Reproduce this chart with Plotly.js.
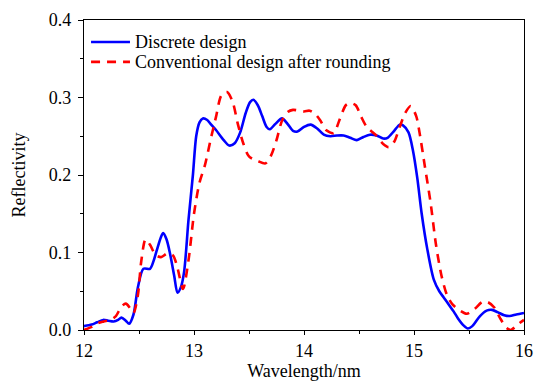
<!DOCTYPE html>
<html>
<head>
<meta charset="utf-8">
<script src="https://cdn.plot.ly/plotly-3.0.1.min.js"></script>
<style>html,body{margin:0;padding:0;background:#fff;}#chart{width:534px;height:381px;}</style>
</head>
<body>
<div id="chart"></div>
<script>
// Discrete design (blue solid)
const blueX = [12.0, 12.07, 12.12, 12.175, 12.22, 12.27, 12.31, 12.34, 12.38, 12.41, 12.45, 12.49, 12.54, 12.6, 12.63, 12.66, 12.7, 12.72, 12.75, 12.78, 12.82, 12.85, 12.88, 12.91, 12.95, 12.99, 13.02, 13.05, 13.08, 13.12, 13.15, 13.2, 13.27, 13.32, 13.37, 13.42, 13.47, 13.51, 13.54, 13.58, 13.62, 13.66, 13.69, 13.74, 13.8, 13.85, 13.9, 13.94, 14.0, 14.06, 14.12, 14.18, 14.24, 14.3, 14.36, 14.42, 14.48, 14.54, 14.6, 14.66, 14.72, 14.76, 14.82, 14.87, 14.9, 14.95, 14.99, 15.03, 15.07, 15.12, 15.18, 15.23, 15.27, 15.32, 15.36, 15.4, 15.45, 15.49, 15.53, 15.6, 15.66, 15.71, 15.76, 15.82, 15.87, 15.93, 16.0];
const blueY = [0.005, 0.007, 0.01, 0.013, 0.012, 0.011, 0.013, 0.016, 0.012, 0.008, 0.02, 0.055, 0.079, 0.079, 0.088, 0.102, 0.12, 0.125, 0.117, 0.1, 0.07, 0.048, 0.055, 0.075, 0.142, 0.2, 0.25, 0.268, 0.273, 0.271, 0.266, 0.258, 0.245, 0.238, 0.241, 0.255, 0.28, 0.294, 0.297, 0.29, 0.276, 0.262, 0.259, 0.266, 0.273, 0.266, 0.257, 0.256, 0.262, 0.265, 0.26, 0.252, 0.25, 0.251, 0.251, 0.248, 0.245, 0.249, 0.252, 0.251, 0.247, 0.248, 0.257, 0.265, 0.264, 0.255, 0.232, 0.196, 0.15, 0.105, 0.065, 0.05, 0.042, 0.032, 0.024, 0.015, 0.006, 0.002, 0.005, 0.018, 0.025, 0.026, 0.023, 0.019, 0.018, 0.02, 0.022];

// Conventional design after rounding (red dashed)
const redX = [12.0, 12.07, 12.13, 12.18, 12.24, 12.29, 12.34, 12.38, 12.42, 12.45, 12.49, 12.52, 12.56, 12.6, 12.65, 12.7, 12.76, 12.81, 12.85, 12.9, 12.95, 13.0, 13.05, 13.1, 13.15, 13.2, 13.25, 13.3, 13.35, 13.4, 13.45, 13.5, 13.58, 13.65, 13.7, 13.75, 13.8, 13.85, 13.9, 14.0, 14.05, 14.1, 14.15, 14.2, 14.27, 14.32, 14.38, 14.42, 14.47, 14.52, 14.57, 14.65, 14.72, 14.77, 14.82, 14.87, 14.92, 14.97, 15.02, 15.05, 15.1, 15.15, 15.2, 15.25, 15.3, 15.35, 15.42, 15.48, 15.55, 15.62, 15.67, 15.73, 15.78, 15.84, 15.88, 15.94, 16.0];
const redY = [0.0, 0.004, 0.009, 0.011, 0.013, 0.018, 0.03, 0.034, 0.028, 0.022, 0.045, 0.088, 0.117, 0.11, 0.097, 0.094, 0.099, 0.096, 0.08, 0.053, 0.09, 0.15, 0.19, 0.213, 0.245, 0.275, 0.303, 0.307, 0.295, 0.265, 0.24, 0.224, 0.218, 0.215, 0.225, 0.245, 0.27, 0.281, 0.284, 0.282, 0.283, 0.279, 0.27, 0.258, 0.254, 0.27, 0.29, 0.293, 0.29, 0.275, 0.262, 0.252, 0.24, 0.236, 0.243, 0.262, 0.28, 0.289, 0.276, 0.255, 0.21, 0.165, 0.11, 0.07, 0.045, 0.033, 0.025, 0.021, 0.027, 0.036, 0.036, 0.029, 0.016, 0.003, 0.0, 0.007, 0.013];

const seriesNames = ['Discrete design', 'Conventional design after rounding'];
const seriesColors = ['#0000ff', '#ff0000'];
const seriesDash = ['solid', '9px,7px'];
const xTickVals = [12, 13, 14, 15, 16];
const yTickVals = [0.0, 0.1, 0.2, 0.3, 0.4];

const FONT = '"Liberation Serif", "Times New Roman", Times, serif';

const traces = [
  {x: blueX, y: blueY, name: seriesNames[0], mode: 'lines', showlegend: false,
   line: {color: seriesColors[0], width: 2.6, dash: seriesDash[0], shape: 'spline', smoothing: 0.8}},
  {x: redX, y: redY, name: seriesNames[1], mode: 'lines', showlegend: false,
   line: {color: seriesColors[1], width: 2.6, dash: seriesDash[1], shape: 'spline', smoothing: 0.8}}
];

const axisCommon = {
  showgrid: false, zeroline: false,
  showline: true, linecolor: '#000', linewidth: 1.2, mirror: true,
  ticks: 'outside', ticklen: 5, tickwidth: 1, tickcolor: '#000',
  tickfont: {family: FONT, size: 18, color: '#000'}
};

// manual legend (paper coordinates)
const legendRowsY = [0.929, 0.865];
const shapes = [];
const annotations = [];
seriesNames.forEach((n, i) => {
  shapes.push({type: 'line', xref: 'paper', yref: 'paper', x0: 0.016, x1: 0.1045,
    y0: legendRowsY[i], y1: legendRowsY[i],
    line: {color: seriesColors[i], width: 2.6, dash: seriesDash[i]}});
  annotations.push({xref: 'paper', yref: 'paper', x: 0.112, y: legendRowsY[i],
    xanchor: 'left', yanchor: 'middle', text: n, showarrow: false,
    font: {family: FONT, size: 18, color: '#000'}});
});

const layout = {
  width: 534, height: 381,
  margin: {l: 84, r: 10, t: 20, b: 51},
  paper_bgcolor: '#fff', plot_bgcolor: '#fff',
  font: {family: FONT, size: 18, color: '#000'},
  showlegend: false,
  xaxis: Object.assign({}, axisCommon, {
    range: [12, 16], tickvals: xTickVals, ticktext: xTickVals.map(String),
    ticklen: 4,
    minor: {dtick: 0.5, tick0: 12, ticks: 'outside', ticklen: 3, tickcolor: '#000', showgrid: false},
    title: {text: 'Wavelength/nm', font: {family: FONT, size: 18, color: '#000'}, standoff: 6}
  }),
  yaxis: Object.assign({}, axisCommon, {
    range: [0, 0.4], tickvals: yTickVals, ticktext: yTickVals.map(v => v.toFixed(1)),
    ticklabelstandoff: 3,
    minor: {dtick: 0.05, tick0: 0, ticks: 'outside', ticklen: 3, tickcolor: '#000', showgrid: false},
    title: {text: 'Reflectivity', font: {family: FONT, size: 18, color: '#000'}, standoff: 18}
  }),
  shapes: shapes,
  annotations: annotations
};

Plotly.newPlot('chart', traces, layout, {staticPlot: true, displayModeBar: false});
</script>
</body>
</html>
